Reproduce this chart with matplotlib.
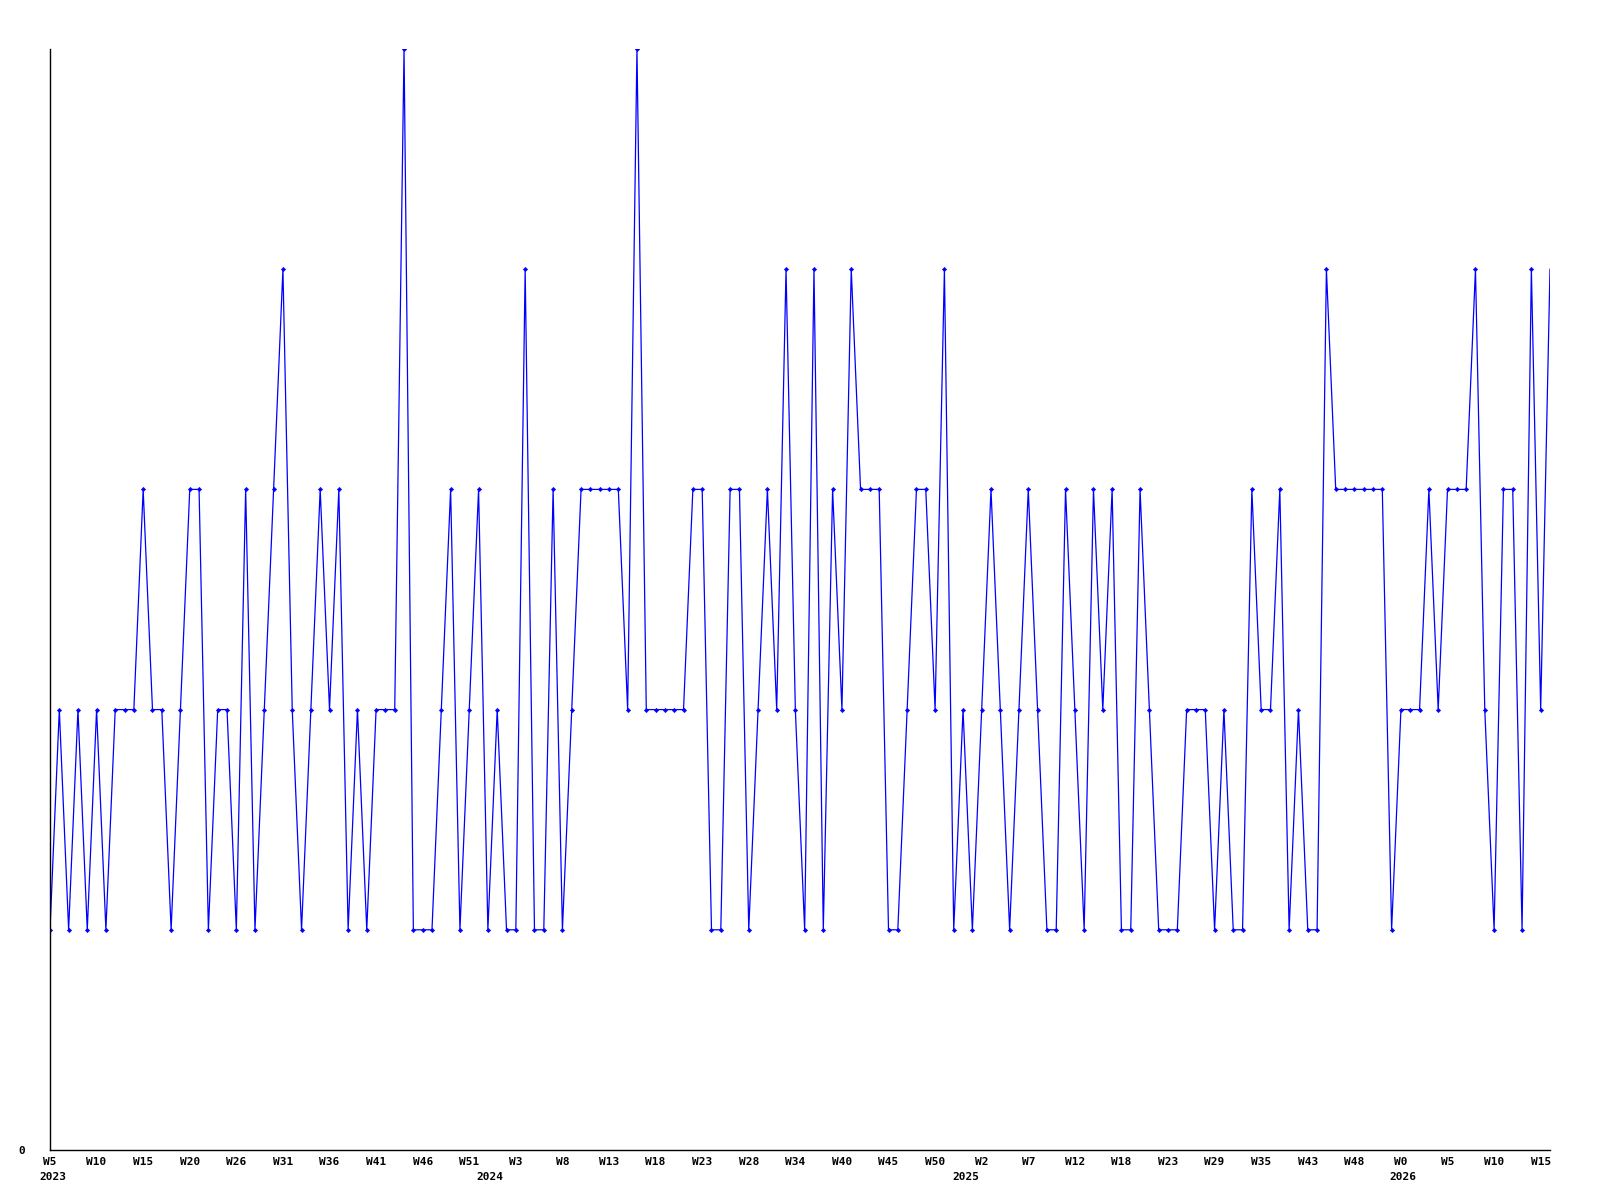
import matplotlib
matplotlib.use("Agg")
import matplotlib.pyplot as plt

# weekly values
values = [
    1, 2, 1, 2, 1, 2, 1, 2, 2, 2,
    3, 2, 2, 1, 2, 3, 3, 1, 2, 2,
    1, 3, 1, 2, 3, 4, 2, 1, 2, 3,
    2, 3, 1, 2, 1, 2, 2, 2, 5, 1,
    1, 1, 2, 3, 1, 2, 3, 1, 2, 1,
    1, 4, 1, 1, 3, 1, 2, 3, 3, 3,
    3, 3, 2, 5, 2, 2, 2, 2, 2, 3,
    3, 1, 1, 3, 3, 1, 2, 3, 2, 4,
    2, 1, 4, 1, 3, 2, 4, 3, 3, 3,
    1, 1, 2, 3, 3, 2, 4, 1, 2, 1,
    2, 3, 2, 1, 2, 3, 2, 1, 1, 3,
    2, 1, 3, 2, 3, 1, 1, 3, 2, 1,
    1, 1, 2, 2, 2, 1, 2, 1, 1, 3,
    2, 2, 3, 1, 2, 1, 1, 4, 3, 3,
    3, 3, 3, 3, 1, 2, 2, 2, 3, 2,
    3, 3, 3, 4, 2, 1, 3, 3, 1, 4,
    2, 4,
]

week_labels = ["W5", "W10", "W15", "W20", "W26", "W31", "W36", "W41", "W46",
               "W51", "W3", "W8", "W13", "W18", "W23", "W28", "W34", "W40",
               "W45", "W50", "W2", "W7", "W12", "W18", "W23", "W29", "W35",
               "W43", "W48", "W0", "W5", "W10", "W15"]
week_step = 5

years = ["2023", "2024", "2025", "2026"]
year_at = [0.3, 47.2, 98.3, 145.2]

x = list(range(len(values)))

fig = plt.figure(figsize=(16, 12), dpi=100)
ax = fig.add_axes([50/1600, 50/1200, 1500/1600, 1101/1200])

# last point sits on the right edge, reference shows no marker there
ax.plot(x, values, color="#0000ff", lw=0.9, marker="D", ms=2.2,
        markeredgewidth=0.4, markevery=list(range(len(values) - 1)))

ax.set_xlim(0, len(values) - 1)
ax.set_ylim(0, max(values))

for s in ["top", "right"]:
    ax.spines[s].set_visible(False)
for s in ["left", "bottom"]:
    ax.spines[s].set_color("black")
    ax.spines[s].set_linewidth(1)

font = dict(family="DejaVu Sans Mono", weight="bold", size=8)

ax.set_yticks([0])
ax.set_yticklabels(["0"], **font)
ax.tick_params(axis="y", length=0, pad=18)

ax.set_xticks([i * week_step for i in range(len(week_labels))])
ax.set_xticklabels(week_labels, **font)
ax.tick_params(axis="x", length=0, pad=5)

for yr, pos in zip(years, year_at):
    ax.annotate(yr, xy=(pos, 0), xycoords=("data", "axes fraction"),
                xytext=(0, -19.5), textcoords="offset points",
                ha="center", va="center", **font)

fig.savefig("out.png", dpi=100)
